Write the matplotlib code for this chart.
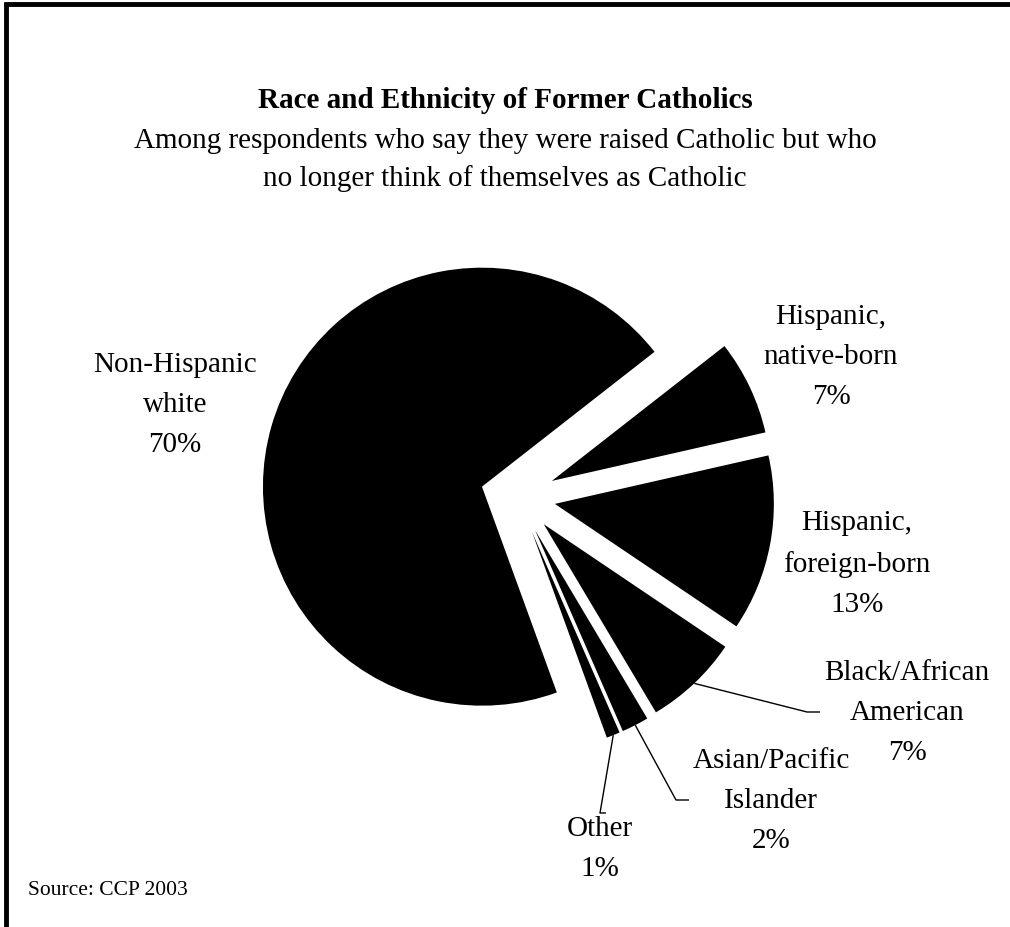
import numpy as np
import matplotlib
matplotlib.use("Agg")
import matplotlib.pyplot as plt

# ---- data ----
categories = ["Hispanic,\nnative-born", "Hispanic,\nforeign-born", "Black/African\nAmerican",
              "Asian/Pacific\nIslander", "Other", "Non-Hispanic\nwhite"]
values = [7, 13, 7, 2, 1, 70]

plt.rcParams['font.family'] = ['Liberation Serif', 'DejaVu Serif']

W, H = 1010, 928
fig = plt.figure(figsize=(W / 100, H / 100), dpi=100)
ax = fig.add_axes([0, 0, 1, 1])

def Y(y):  # image-row to data y
    return H - y

R = 219
cx, cy = 518, Y(498)
expl = 37.5
wedges, _ = ax.pie(values, startangle=38, counterclock=False, radius=R,
                   center=(cx, cy), explode=[expl] * len(values),
                   colors=['black'] * len(values),
                   wedgeprops=dict(linewidth=0, edgecolor='none'))

ax.set_xlim(0, W)
ax.set_ylim(0, H)
ax.set_aspect('auto')
ax.axis('off')

fs = 21
# label positions (image coords of block centre)
label_pos = {
    0: (831, 357),
    1: (857, 564),
    2: (907, 713),
    3: (771, 801),
    4: (600, 849),
    5: (175, 405),
}
for i, (lx, ly) in label_pos.items():
    txt = f"{categories[i]}\n{values[i]}%"
    ax.text(lx, Y(ly), txt, ha='center', va='center', fontsize=fs,
            multialignment='center', linespacing=1.72)

# leader lines for small slices: start at arc mid-angle
leader_ends = {2: [(807, 713), (820, 713)],
               3: [(676, 801), (689, 801)],
               4: [(600, 814), (606, 814)]}
for i, pts in leader_ends.items():
    w = wedges[i]
    th = np.deg2rad((w.theta1 + w.theta2) / 2)
    sx = w.center[0] + w.r * np.cos(th)
    sy = w.center[1] + w.r * np.sin(th)
    xs = [sx] + [p[0] for p in pts]
    ys = [sy] + [Y(p[1]) for p in pts]
    ax.plot(xs, ys, color='black', lw=1.0, solid_capstyle='butt')

# titles
ax.text(W / 2, Y(101), "Race and Ethnicity of Former Catholics", ha='center', va='center',
        fontsize=21, fontweight='bold')
ax.text(W / 2, Y(141), "Among respondents who say they were raised Catholic but who",
        ha='center', va='center', fontsize=21)
ax.text(W / 2, Y(179), "no longer think of themselves as Catholic",
        ha='center', va='center', fontsize=21)

ax.text(28, Y(891), "Source: CCP 2003", ha='left', va='center', fontsize=15.5)

# frame (top and left edges)
ax.plot([6, 6], [0, Y(3)], color='black', lw=3.5, solid_capstyle='butt')
ax.plot([4, W], [Y(5), Y(5)], color='black', lw=3.5, solid_capstyle='butt')

fig.savefig("out.png", dpi=100)
